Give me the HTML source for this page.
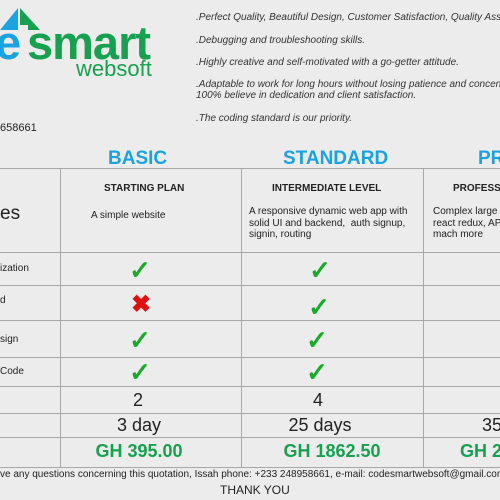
<!DOCTYPE html>
<html><head><meta charset="utf-8">
<style>
html,body{margin:0;width:500px;height:500px;overflow:hidden}
body{background:#ececec;font-family:"Liberation Sans",sans-serif;color:#222}
#wrap{position:relative;width:500px;height:500px;overflow:hidden;background:#ececec}
.a{position:absolute;white-space:nowrap}
.hl{position:absolute;left:0;width:500px;height:1px;background:#a8a8a8}
.vl{position:absolute;top:168px;height:299px;width:1px;background:#a8a8a8}
.it{font-style:italic;font-size:10px;color:#333;left:196px}
.h{font-weight:bold;color:#1aa3e0;font-size:19px;top:148px}
.ck{color:#1aaa2a;font-size:26px;font-weight:bold;transform:translateX(-50%)}
.c{transform:translateX(-50%);font-size:18px}
.g{color:#17a050;font-weight:bold}
</style></head><body>
<div id="wrap">
<div>
<svg class="a" style="left:0;top:5px" width="45" height="30">
<polygon points="0,25 18,3 18,25" fill="#1aa3e0"/>
<polygon points="20,3 40,25 28,25 28,20 20,20" fill="#17a050"/>
</svg>
<div class="a" style="left:-5px;top:15px;font-size:47px;font-weight:bold;color:#1aa3e0;letter-spacing:-1px">e</div>
<div class="a" style="left:27px;top:15px;font-size:47px;font-weight:bold;color:#17a050;letter-spacing:-1px">smart</div>
<div class="a" style="left:76px;top:56px;font-size:22px;color:#17a050">websoft</div>
</div>
<div class="a it" style="top:12px">.Perfect Quality, Beautiful Design, Customer Satisfaction, Quality Assurance</div>
<div class="a it" style="top:35px">.Debugging and troubleshooting skills.</div>
<div class="a it" style="top:57px">.Highly creative and self-motivated with a go-getter attitude.</div>
<div class="a it" style="top:79px;line-height:11px">.Adaptable to work for long hours without losing patience and concentration<br>100% believe in dedication and client satisfaction.</div>
<div class="a it" style="top:113px">.The coding standard is our priority.</div>
<div class="a" style="left:0;top:122px;font-size:11px">658661</div>

<div class="a h" style="left:108px">BASIC</div>
<div class="a h" style="left:283px">STANDARD</div>
<div class="a h" style="left:478px">PRO</div>

<div class="hl" style="top:168px"></div><div class="hl" style="top:252px"></div><div class="hl" style="top:285px"></div><div class="hl" style="top:320px"></div><div class="hl" style="top:357px"></div><div class="hl" style="top:386px"></div><div class="hl" style="top:413px"></div><div class="hl" style="top:437px"></div><div class="hl" style="top:467px"></div>
<div class="vl" style="left:60px"></div><div class="vl" style="left:241px"></div><div class="vl" style="left:423px"></div>

<div class="a" style="left:0;top:203px;font-size:19px">es</div>
<div class="a" style="left:104px;top:183px;font-size:10px;font-weight:bold">STARTING PLAN</div>
<div class="a" style="left:91px;top:210px;font-size:10px">A simple website</div>
<div class="a" style="left:272px;top:183px;font-size:10px;font-weight:bold">INTERMEDIATE LEVEL</div>
<div class="a" style="left:249px;top:206px;font-size:10px;line-height:11.5px">A responsive dynamic web app with<br>solid UI and backend,&nbsp; auth signup,<br>signin, routing</div>
<div class="a" style="left:453px;top:183px;font-size:10px;font-weight:bold">PROFESSIONAL</div>
<div class="a" style="left:433px;top:206px;font-size:10px;line-height:11.5px">Complex large<br>react redux, API<br>mach more</div>

<div class="a" style="left:0;top:263px;font-size:10px">ization</div>
<div class="a" style="left:0;top:295px;font-size:10px">d</div>
<div class="a" style="left:0;top:334px;font-size:10px">sign</div>
<div class="a" style="left:0;top:366px;font-size:10px">Code</div>

<div class="a ck" style="left:140px;top:255px">✓</div>
<div class="a" style="left:131px;top:290px;font-size:24px;color:#e01010;font-weight:bold">✖</div>
<div class="a ck" style="left:140px;top:325px">✓</div>
<div class="a ck" style="left:140px;top:357px">✓</div>
<div class="a ck" style="left:320px;top:255px">✓</div>
<div class="a ck" style="left:319px;top:292px">✓</div>
<div class="a ck" style="left:317px;top:325px">✓</div>
<div class="a ck" style="left:317px;top:357px">✓</div>

<div class="a c" style="left:138px;top:390px">2</div>
<div class="a c" style="left:318px;top:390px">4</div>
<div class="a c" style="left:139px;top:415px">3 day</div>
<div class="a c" style="left:320px;top:415px">25 days</div>
<div class="a" style="left:482px;top:415px;font-size:18px">35 days</div>
<div class="a c g" style="left:139px;top:441px">GH 395.00</div>
<div class="a c g" style="left:332px;top:441px">GH 1862.50</div>
<div class="a g" style="left:460px;top:441px;font-size:18px">GH 2</div>

<div class="a" style="left:0;top:469px;font-size:10px">ve any questions concerning this quotation, Issah phone: +233 248958661, e-mail: codesmartwebsoft@gmail.com</div>
<div class="a" style="left:220px;top:483px;font-size:12px">THANK YOU</div>
</div>
</body></html>
